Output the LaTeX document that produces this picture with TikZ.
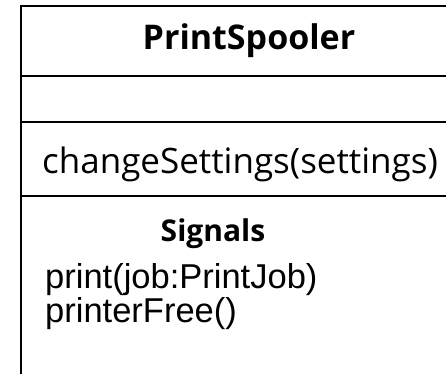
\documentclass[tikz,border=0pt]{standalone}
\usepackage{fontspec}
\setmainfont{Open Sans}
\newfontfamily\listfont{Liberation Sans}
\begin{document}
\begin{tikzpicture}[x=1pt,y=-1pt,
  rule/.style={line width=2.2pt,line cap=rect},
  title/.style={inner sep=0pt,anchor=base,font=\fontsize{34}{40}\selectfont\bfseries},
  member/.style={inner sep=0pt,anchor=base west,font=\fontsize{35}{40}\selectfont},
  heading/.style={inner sep=0pt,anchor=base,font=\fontsize{30}{36}\selectfont\bfseries},
  signal/.style={inner sep=0pt,anchor=base west,font=\listfont\fontsize{34.5}{40}\selectfont}]
\useasboundingbox (0,0) rectangle (446,373);
% class frame: open to the right and at the bottom
\coordinate (tl) at (21,6);
\coordinate (tr) at (446,6);
\coordinate (bl) at (21,373);
\draw[rule] (tr) -- (tl) -- (bl);
\coordinate (a1) at (21,76);  \coordinate (a2) at (446,76);
\coordinate (b1) at (21,122); \coordinate (b2) at (446,122);
\coordinate (c1) at (21,196); \coordinate (c2) at (446,196);
\draw[rule] (a1) -- (a2);
\draw[rule] (b1) -- (b2);
\draw[rule] (c1) -- (c2);
% compartments
\node[title] (name) at (249,49) {PrintSpooler};
\node[member] (op) at (42,173) {changeSettings(settings)};
\node[heading] (sig) at (213,241) {Signals};
\node[signal] (s1) at (45,288) {print(job:PrintJob)};
\node[signal] (s2) at (45,322) {printerFree()};
\end{tikzpicture}
\end{document}
